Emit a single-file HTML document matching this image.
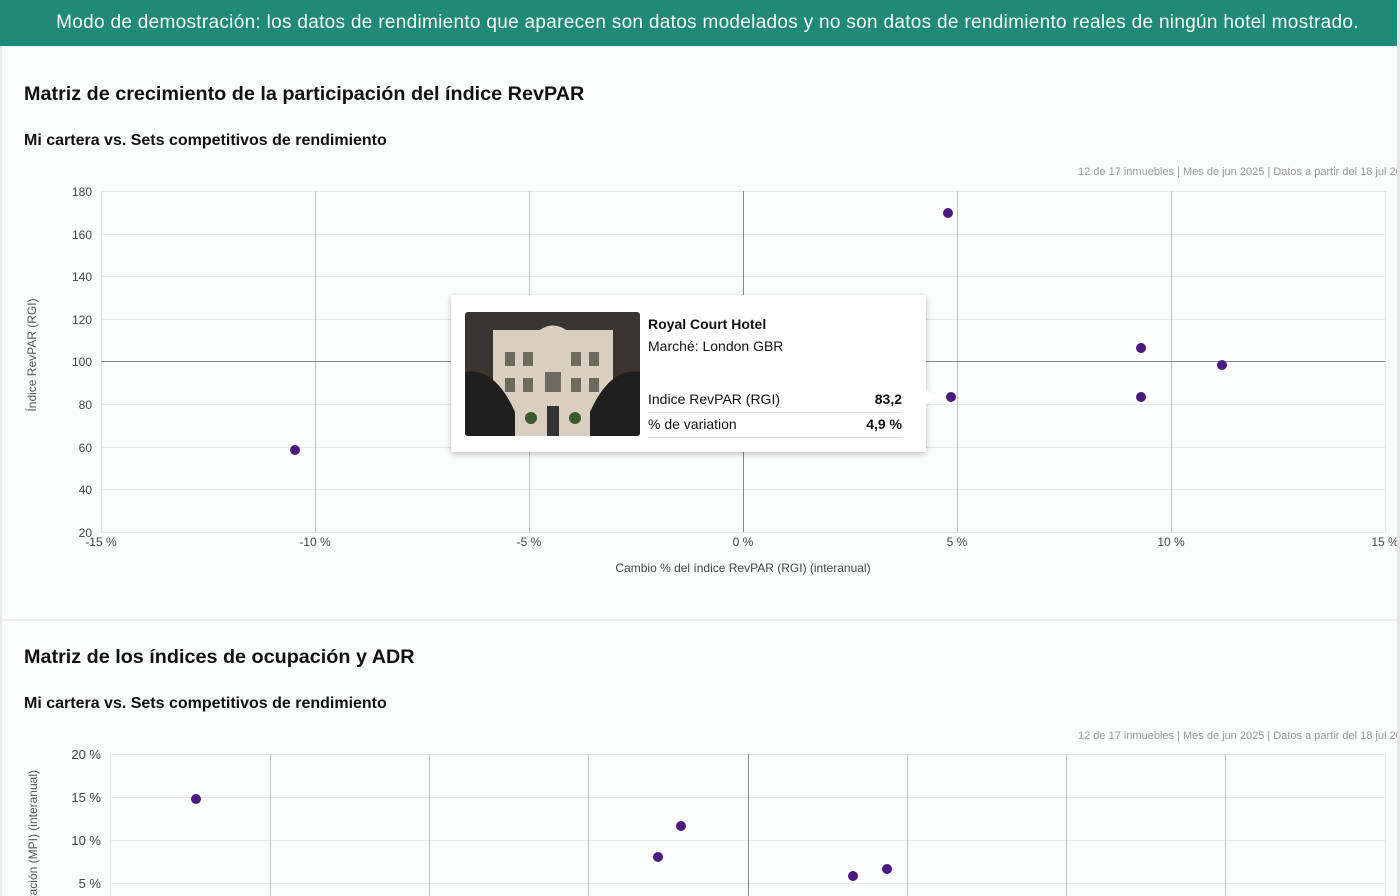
<!DOCTYPE html>
<html><head><meta charset="utf-8"><style>
*{margin:0;padding:0;box-sizing:border-box}
html,body{width:1400px;height:896px;overflow:hidden}
body{background:#e8e8e8;font-family:"Liberation Sans",Arial,sans-serif;position:relative}
.page{position:absolute;left:2px;top:0;width:1395px;height:896px;background:#fbfcfc}
.banner{position:absolute;left:0;top:0;width:1397px;height:46px;background:#218a77;color:#f4fbf9;font-size:19px;text-align:center;line-height:45px;letter-spacing:0.3px;white-space:nowrap;padding-left:18px}
.t{position:absolute;color:#111;font-weight:bold;white-space:nowrap}
.note{position:absolute;font-size:11px;color:#999;white-space:nowrap}
.tip{position:absolute;left:451px;top:295px;width:475px;height:157px;background:#fff;box-shadow:0 2px 6px rgba(0,0,0,0.25);font-size:14px;color:#111}
.tip .r{position:absolute;left:197px;width:254px;border-bottom:1px solid #ddd;height:22px}
.tip .r b{position:absolute;right:0}
.arrow{position:absolute;left:926px;top:389px;width:0;height:0;border-top:8px solid transparent;border-bottom:8px solid transparent;border-left:8px solid #fff}
</style></head><body>
<div class="page"></div>
<div class="banner">Modo de demostración: los datos de rendimiento que aparecen son datos modelados y no son datos de rendimiento reales de ningún hotel mostrado.</div>
<div class="t" style="left:24px;top:83px;font-size:19.8px">Matriz de crecimiento de la participación del índice RevPAR</div>
<div class="t" style="left:24px;top:132px;font-size:16px">Mi cartera vs. Sets competitivos de rendimiento</div>
<div class="note" style="left:1078px;top:166px">12 de 17 inmuebles | Mes de jun 2025 | Datos a partir del 18 jul 2025</div>
<div style="position:absolute;left:2px;top:619px;width:1395px;height:2px;background:#ececec"></div>
<div class="t" style="left:24px;top:646px;font-size:19.8px">Matriz de los índices de ocupación y ADR</div>
<div class="t" style="left:24px;top:695px;font-size:16px">Mi cartera vs. Sets competitivos de rendimiento</div>
<div class="note" style="left:1078px;top:730px">12 de 17 inmuebles | Mes de jun 2025 | Datos a partir del 18 jul 2025</div>
<svg width="1400" height="896" style="position:absolute;left:0;top:0;overflow:hidden" font-family="Liberation Sans,Arial,sans-serif">
<g stroke="#e6e6e6" stroke-width="1">
<line x1="101" x2="1385" y1="191.5" y2="191.5"/><line x1="101" x2="1385" y1="234.5" y2="234.5"/><line x1="101" x2="1385" y1="276.5" y2="276.5"/><line x1="101" x2="1385" y1="319.5" y2="319.5"/><line x1="101" x2="1385" y1="404.5" y2="404.5"/><line x1="101" x2="1385" y1="447.5" y2="447.5"/><line x1="101" x2="1385" y1="489.5" y2="489.5"/><line x1="101" x2="1385" y1="532.5" y2="532.5"/>
<line x1="101.5" x2="101.5" y1="191" y2="532"/><line x1="1385.5" x2="1385.5" y1="191" y2="532"/>
</g>
<g stroke="#c4c4c4"><line x1="315.5" x2="315.5" y1="191" y2="532"/><line x1="529.5" x2="529.5" y1="191" y2="532"/><line x1="957.5" x2="957.5" y1="191" y2="532"/><line x1="1171.5" x2="1171.5" y1="191" y2="532"/></g>
<g stroke="#888"><line x1="743.5" x2="743.5" y1="191" y2="532"/><line x1="101" x2="1385" y1="361.5" y2="361.5"/></g>
<g font-size="12" fill="#444" text-anchor="end">
<text x="92" y="196">180</text><text x="92" y="239">160</text><text x="92" y="281">140</text><text x="92" y="324">120</text><text x="92" y="366">100</text><text x="92" y="409">80</text><text x="92" y="452">60</text><text x="92" y="494">40</text><text x="92" y="537">20</text></g>
<g font-size="12" fill="#444" text-anchor="middle">
<text x="101" y="546">-15 %</text><text x="315" y="546">-10 %</text><text x="529" y="546">-5 %</text><text x="743" y="546">0 %</text><text x="957" y="546">5 %</text><text x="1171" y="546">10 %</text><text x="1385" y="546">15 %</text>
<text x="743" y="572">Cambio % del índice RevPAR (RGI) (interanual)</text></g>
<text transform="translate(36,355) rotate(-90)" font-size="12" fill="#555" text-anchor="middle">Índice RevPAR (RGI)</text>
<g fill="#4b1a7f"><circle cx="948" cy="213" r="5"/><circle cx="295" cy="450" r="5"/><circle cx="951" cy="397" r="5"/><circle cx="1141" cy="348" r="5"/><circle cx="1141" cy="397" r="5"/><circle cx="1222" cy="365" r="5"/></g>
<g stroke="#e6e6e6"><line x1="110" x2="1385" y1="754.5" y2="754.5"/><line x1="110" x2="1385" y1="797.5" y2="797.5"/><line x1="110" x2="1385" y1="840.5" y2="840.5"/><line x1="110" x2="1385" y1="883.5" y2="883.5"/><line x1="110.5" x2="110.5" y1="754" y2="896"/><line x1="1385.5" x2="1385.5" y1="754" y2="896"/></g>
<g stroke="#c4c4c4"><line x1="270.5" x2="270.5" y1="754" y2="896"/><line x1="429.5" x2="429.5" y1="754" y2="896"/><line x1="588.5" x2="588.5" y1="754" y2="896"/><line x1="907.5" x2="907.5" y1="754" y2="896"/><line x1="1066.5" x2="1066.5" y1="754" y2="896"/><line x1="1225.5" x2="1225.5" y1="754" y2="896"/></g>
<line x1="748.5" x2="748.5" y1="754" y2="896" stroke="#888"/>
<g font-size="13" fill="#444" text-anchor="end"><text x="101" y="759">20 %</text><text x="101" y="802">15 %</text><text x="101" y="845">10 %</text><text x="101" y="888">5 %</text></g>
<text transform="translate(37,770) rotate(-90)" font-size="12" fill="#555" text-anchor="end">Cambio % del índice de penetración (MPI) (interanual)</text>
<g fill="#4b1a7f"><circle cx="196" cy="799" r="5"/><circle cx="681" cy="826" r="5"/><circle cx="658" cy="857" r="5"/><circle cx="853" cy="876" r="5"/><circle cx="887" cy="869" r="5"/></g>
</svg>
<div style="position:absolute;left:1397px;top:0;width:3px;height:896px;background:#e4e4e4"></div>
<div class="tip">
<svg width="175" height="124" style="position:absolute;left:14px;top:17px;border-radius:3px">
<rect width="175" height="124" fill="#3a3530"/>
<rect x="28" y="18" width="120" height="106" fill="#d8cfc0"/>
<path d="M70 22 Q88 5 106 22 Z" fill="#d8cfc0"/>
<g fill="#6f6a60"><rect x="40" y="40" width="10" height="14"/><rect x="58" y="40" width="10" height="14"/><rect x="106" y="40" width="10" height="14"/><rect x="124" y="40" width="10" height="14"/><rect x="40" y="66" width="10" height="14"/><rect x="58" y="66" width="10" height="14"/><rect x="106" y="66" width="10" height="14"/><rect x="124" y="66" width="10" height="14"/><rect x="80" y="60" width="16" height="20"/><rect x="82" y="94" width="12" height="30" fill="#333"/></g>
<path d="M0 60 Q30 55 50 100 L50 124 L0 124 Z" fill="#1f1f1f"/>
<path d="M175 60 Q145 55 125 100 L125 124 L175 124 Z" fill="#1f1f1f"/>
<circle cx="66" cy="106" r="6" fill="#3d5a2e"/><circle cx="110" cy="106" r="6" fill="#3d5a2e"/>
</svg>
<div style="position:absolute;left:197px;top:21px;font-weight:bold">Royal Court Hotel</div>
<div style="position:absolute;left:197px;top:43px">Marché: London GBR</div>
<div class="r" style="top:96px">Indice RevPAR (RGI)<b>83,2</b></div>
<div class="r" style="top:121px">% de variation<b>4,9 %</b></div>
</div>
<div class="arrow"></div>
</body></html>
